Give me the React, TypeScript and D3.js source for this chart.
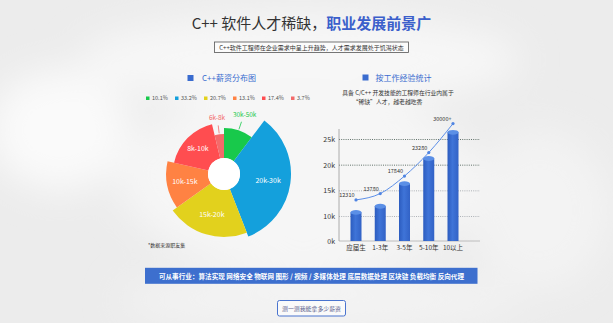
import React from "react";
import * as d3 from "d3";

/* ---- salary pie (rose) ---- */
const salaryBands = ["30k-50k", "20k-30k", "15k-20k", "10k-15k", "8k-10k", "6k-8k"];
const salaryShare = [10.1, 33.2, 20.7, 13.1, 17.4, 3.7];
const salaryReach = [0.59, 1, 0.92, 0.82, 0.69, 0.47]; // relative petal length
const salaryColors = ["#18c94b", "#14a0dc", "#e2d11d", "#ff8243", "#ff4d50", "#f36a6a"];
const outsideLabel = [true, false, false, false, false, true];

/* ---- experience bars ---- */
const expCats = ["应届生", "1-3年", "3-5年", "5-10年", "10以上"];
const expBars = [10800, 12000, 16400, 21300, 26400];
const expLine = [12310, 13780, 17840, 23280, 30000];
const expLineLabels = ["12310", "13780", "17840", "23280", "30000+"];
const yTicks = [0, 10000, 15000, 20000, 25000];
const yTickLabels = ["0k", "10k", "15k", "20k", "25k"];

const FONT = "'Noto Sans CJK SC', 'Noto Sans', sans-serif";
const BLUE = "#3a6ccf";

export default function App() {
  const W = 613;
  const H = 323;

  /* pie */
  const cx = 224;
  const cy = 174;
  const r0 = 16;
  const rLen = d3.scaleLinear().domain([0, 1]).range([r0, 67]);
  const pieData = salaryBands.map((b, i) => ({
    band: b,
    share: salaryShare[i],
    reach: salaryReach[i],
    color: salaryColors[i],
    outside: outsideLabel[i],
  }));
  const arcs = d3
    .pie<(typeof pieData)[number]>()
    .sort(null)
    .value((d) => d.share)(pieData);
  const arcGen = d3
    .arc<d3.PieArcDatum<(typeof pieData)[number]>>()
    .innerRadius(r0)
    .outerRadius((d) => rLen(d.data.reach));

  /* bars */
  const x = d3.scalePoint<string>().domain(expCats).range([356, 453]);
  const y = d3.scaleLinear().domain([0, 10000, 25000]).range([241, 216.5, 139.5]);
  const yLine = d3.scaleLinear().domain([0, 35000]).range([253, 102]);
  const bw = 11;
  const axisX0 = 339;
  const axisX1 = 480;
  const linePath = d3
    .line<number>()
    .x((_, i) => x(expCats[i]) as number)
    .y((d) => yLine(d))
    .curve(d3.curveMonotoneX)(expLine);

  const legendX = d3.scaleLinear().domain([0, 1]).range([146, 175]);

  return (
    <svg
      width={W}
      height={H}
      viewBox={`0 0 ${W} ${H}`}
      style={{ position: "absolute", left: 0, top: 0, fontFamily: FONT }}
    >
      <defs>
        <filter id="blur" x="-50%" y="-50%" width="200%" height="200%">
          <feGaussianBlur stdDeviation="18" />
        </filter>
        <linearGradient id="barBody" x1="0" x2="1" y1="0" y2="0">
          <stop offset="0" stopColor="#2c5cbf" />
          <stop offset="0.45" stopColor="#3f74d8" />
          <stop offset="1" stopColor="#3262c6" />
        </linearGradient>
      </defs>

      {/* ---- background ---- */}
      <rect width={W} height={H} fill="#ececec" />
      <g filter="url(#blur)">
        <ellipse cx={300} cy={60} rx={220} ry={45} fill="#f7f7f7" />
        <ellipse cx={60} cy={130} rx={70} ry={60} fill="#fafafa" />
        <ellipse cx={300} cy={180} rx={180} ry={90} fill="#f6f6f6" />
        <ellipse cx={540} cy={210} rx={70} ry={80} fill="#f3f3f3" />
        <ellipse cx={320} cy={300} rx={200} ry={30} fill="#f3f3f3" />
      </g>

      {/* ---- title ---- */}
      <text x={311.5} y={29} textAnchor="middle" fontSize={15}>
        <tspan fill="#333">C++ 软件人才稀缺，</tspan>
        <tspan fill="#3b5fcb" fontWeight={700}>
          职业发展前景广
        </tspan>
      </text>
      <rect x={214.5} y={42} width={194} height={10.5} fill="#fbfbfb" stroke="#555" strokeWidth={0.8} />
      <text x={311.5} y={49.7} textAnchor="middle" fontSize={6} fill="#333">
        C++软件工程师在企业需求中呈上升趋势，人才需求发展处于饥渴状态
      </text>

      {/* ---- left heading ---- */}
      <rect x={187.5} y={75} width={6} height={6} fill={BLUE} />
      <text x={202} y={81} fontSize={8} fill={BLUE}>
        C++薪资分布图
      </text>

      {/* legend */}
      {pieData.map((d, i) => (
        <g key={d.band}>
          <rect x={legendX(i)} y={96.5} width={3.5} height={3.5} fill={d.color} />
          <text x={legendX(i) + 6} y={100.3} fontSize={5.5} fill="#555">
            {d.share}%
          </text>
        </g>
      ))}

      {/* pie */}
      <g transform={`translate(${cx},${cy})`}>
        {arcs.map((a) => (
          <path key={a.data.band} d={arcGen(a) as string} fill={a.data.color} />
        ))}
        {arcs.map((a) => {
          const mid = (a.startAngle + a.endAngle) / 2;
          const ro = rLen(a.data.reach);
          if (a.data.outside) {
            const s = Math.sin(mid);
            const c = Math.cos(mid);
            const p1 = [s * (ro + 1), -c * (ro + 1)];
            const p2 = [s * (ro + 9), -c * (ro + 9)];
            return (
              <g key={a.data.band}>
                <line x1={p1[0]} y1={p1[1]} x2={p2[0]} y2={p2[1]} stroke={a.data.color} strokeWidth={0.8} />
                <text
                  x={p2[0] + s * 10}
                  y={p2[1] - 5}
                  textAnchor="middle"
                  fontSize={6.5}
                  fill={a.data.color}
                >
                  {a.data.band}
                </text>
              </g>
            );
          }
          const rm = (r0 + ro) / 2 + 3;
          return (
            <text
              key={a.data.band}
              x={Math.sin(mid) * rm}
              y={-Math.cos(mid) * rm + 2.5}
              textAnchor="middle"
              fontSize={7}
              fill="#fff"
            >
              {a.data.band}
            </text>
          );
        })}
        <circle r={r0} fill="#fff" />
      </g>
      <text x={148} y={247} fontSize={5} fill="#333">
        *数据来源职友集
      </text>

      {/* ---- right heading ---- */}
      <rect x={362.5} y={74.5} width={6} height={6} fill={BLUE} />
      <text x={375.5} y={80.5} fontSize={8} fill={BLUE}>
        按工作经验统计
      </text>
      <text x={398} y={94.7} textAnchor="middle" fontSize={5.8} fill="#333">
        具备 C/C++ 开发技能的工程师在行业内属于
      </text>
      <text x={387.5} y={104.3} textAnchor="middle" fontSize={5.8} fill="#333">
        “稀缺”人才，越老越吃香
      </text>

      {/* grid */}
      {yTicks.slice(1).map((t) => (
        <line
          key={t}
          x1={axisX0}
          x2={axisX1}
          y1={y(t)}
          y2={y(t)}
          stroke={t >= 20000 ? "#3c5048" : "#9aa0a6"}
          strokeWidth={0.8}
          strokeDasharray="1 1.2"
        />
      ))}
      {/* axes */}
      <line x1={axisX0} x2={axisX0} y1={129} y2={y(0)} stroke="#9a9a9a" strokeWidth={0.8} />
      <line x1={axisX0} x2={axisX1} y1={y(0)} y2={y(0)} stroke="#b0b0b0" strokeWidth={0.8} />
      {yTicks.map((t, i) => (
        <text key={t} x={335} y={y(t) + 2.5} textAnchor="end" fontSize={7} fill="#333">
          {yTickLabels[i]}
        </text>
      ))}

      {/* bars */}
      {expCats.map((c, i) => {
        const bx = (x(c) as number) - bw / 2;
        const top = y(expBars[i]);
        return (
          <g key={c}>
            <rect x={bx} y={top} width={bw} height={y(0) - top} fill="url(#barBody)" />
            <ellipse cx={x(c) as number} cy={top} rx={bw / 2} ry={2.4} fill="#5b8fe6" />
          </g>
        );
      })}
      {expCats.map((c) => (
        <text key={c} x={x(c) as number} y={250} textAnchor="middle" fontSize={6.5} fill="#333">
          {c}
        </text>
      ))}

      {/* line */}
      <path d={linePath as string} fill="none" stroke="#5c8fe8" strokeWidth={1} />
      {expLine.map((v, i) => (
        <g key={i}>
          <circle cx={x(expCats[i]) as number} cy={yLine(v)} r={1.6} fill="#4f84e2" />
          <text
            x={(x(expCats[i]) as number) - 1.5}
            y={yLine(v) - 3}
            textAnchor="end"
            fontSize={5.5}
            fill="#333"
          >
            {expLineLabels[i]}
          </text>
        </g>
      ))}

      {/* ---- banner ---- */}
      <rect x={145} y={267.8} width={332.5} height={16} fill="#3d6fce" />
      <text x={311.5} y={278.5} textAnchor="middle" fontSize={6.6} fontWeight={700} fill="#fff">
        可从事行业：算法实现 网络安全 物联网 图形 / 视频 / 多媒体处理 底层数据处理 区块链 负载均衡 反向代理
      </text>

      {/* ---- button ---- */}
      <rect x={277.5} y={300.5} width={68} height={15.5} rx={2} fill="#fafafa" stroke="#4a74cf" strokeWidth={1} />
      <text x={311.5} y={310.5} textAnchor="middle" fontSize={5.9} fill="#5a5f8e">
        测一测我能拿多少薪资
      </text>
    </svg>
  );
}
